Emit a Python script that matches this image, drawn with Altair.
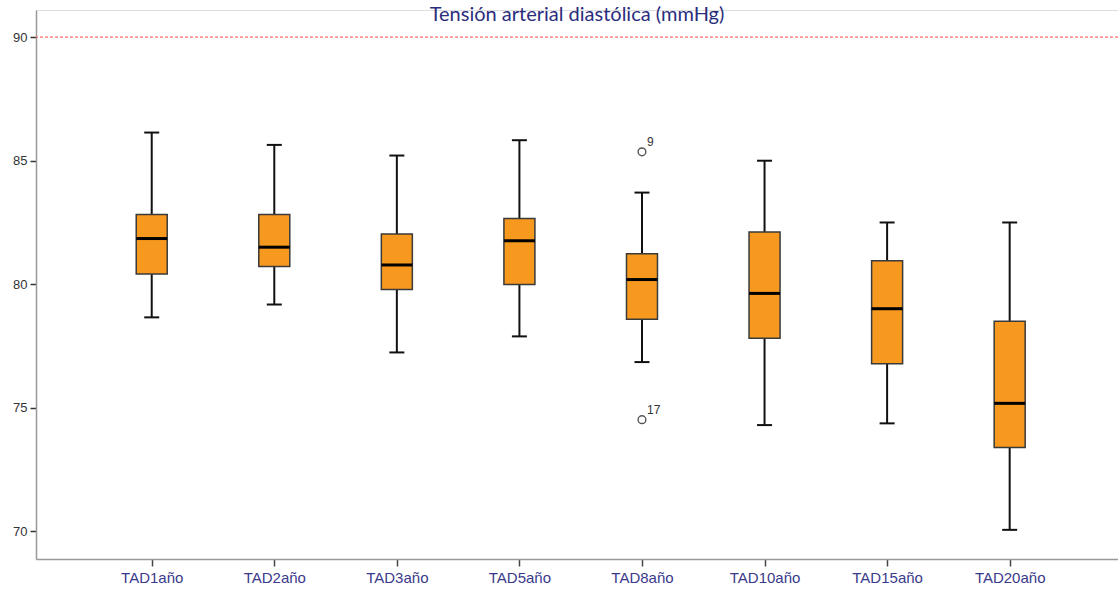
import altair as alt
import pandas as pd

# Diastolic blood pressure (mmHg) by follow-up year: box-plot summaries
periods = ["TAD1año", "TAD2año", "TAD3año", "TAD5año",
           "TAD8año", "TAD10año", "TAD15año", "TAD20año"]
whisker_low = [78.66, 79.18, 77.24, 77.89, 76.85, 74.30, 74.37, 70.06]
q1 = [80.41, 80.72, 79.79, 79.99, 78.58, 77.81, 76.78, 73.39]
median = [81.85, 81.50, 80.78, 81.76, 80.19, 79.63, 79.01, 75.18]
q3 = [82.82, 82.82, 82.03, 82.66, 81.23, 82.11, 80.95, 78.50]
whisker_high = [86.14, 85.64, 85.21, 85.83, 83.71, 85.00, 82.50, 82.50]

# Outlying cases
outlier_period = ["TAD8año", "TAD8año"]
outlier_value = [85.36, 74.52]
outlier_case = ["9", "17"]

# Reference threshold for diastolic hypertension
threshold = [90]

stats = pd.DataFrame({
    "period": periods,
    "low": whisker_low,
    "q1": q1,
    "median": median,
    "q3": q3,
    "high": whisker_high,
})
outliers = pd.DataFrame({
    "period": outlier_period,
    "value": outlier_value,
    "case": outlier_case,
})
limits = pd.DataFrame({"limit": threshold})

x_enc = alt.X(
    "period:N",
    sort=periods,
    scale=alt.Scale(type="point", padding=0.914, align=0.5165),
    axis=alt.Axis(
        title=None,
        labelAngle=0,
        labelColor="#3a3a8c",
        labelFont="Arial",
        labelFontSize=15,
        labelPadding=4,
        tickSize=7,
        tickColor="#444444",
        tickWidth=1.5,
        domainColor="#999999",
        domainWidth=1.5,
    ),
)
y_scale = alt.Scale(domain=[68.88, 91.1], nice=False, zero=False)
y_axis = alt.Axis(
    title=None,
    values=[70, 75, 80, 85, 90],
    grid=False,
    labelColor="#333333",
    labelFont="Arial",
    labelFontSize=13,
    labelPadding=3,
    tickSize=6,
    tickColor="#333333",
    tickWidth=1.5,
    domainColor="#999999",
    domainWidth=1.5,
)

base = alt.Chart(stats)

lower_whisker = base.mark_rule(color="#111111", strokeWidth=2).encode(
    x=x_enc,
    y=alt.Y("low:Q", scale=y_scale, axis=y_axis),
    y2="q1:Q",
)
upper_whisker = base.mark_rule(color="#111111", strokeWidth=2).encode(
    x=x_enc, y=alt.Y("q3:Q"), y2="high:Q"
)
caps_low = base.mark_tick(color="#111111", size=15, thickness=2, opacity=1).encode(
    x=x_enc, y=alt.Y("low:Q")
)
caps_high = base.mark_tick(color="#111111", size=15, thickness=2, opacity=1).encode(
    x=x_enc, y=alt.Y("high:Q")
)
boxes = base.mark_bar(
    size=31, fill="#F7991F", stroke="#3a3a3a", strokeWidth=1.5, opacity=1
).encode(x=x_enc, y=alt.Y("q1:Q"), y2="q3:Q")
medians = base.mark_tick(color="#000000", size=31, thickness=3, opacity=1).encode(
    x=x_enc, y=alt.Y("median:Q")
)

outlier_pts = alt.Chart(outliers).mark_point(
    shape="circle", size=60, filled=False, color="#555555", strokeWidth=1.4,
    opacity=1
).encode(x=x_enc, y=alt.Y("value:Q"))
outlier_labels = alt.Chart(outliers).mark_text(
    align="left", baseline="middle", dx=5, dy=-10,
    font="Arial", fontSize=12, color="#333333"
).encode(x=x_enc, y=alt.Y("value:Q"), text="case:N")

limit_rule = alt.Chart(limits).mark_rule(
    color="#ff6a6a", strokeDash=[3, 2], strokeWidth=1.3
).encode(y=alt.Y("limit:Q"))

chart = alt.layer(
    limit_rule, lower_whisker, upper_whisker, caps_low, caps_high,
    boxes, medians, outlier_pts, outlier_labels,
).properties(
    width=1082,
    height=549,
    title=alt.TitleParams(
        "Tensión arterial diastólica (mmHg)",
        font="Lato",
        fontSize=20,
        fontWeight="normal",
        color="#2a2d7c",
        anchor="middle",
        frame="group",
        offset=-15,
    ),
    autosize=alt.AutoSizeParams(type="none"),
    padding={"left": 36, "top": 10, "right": 0, "bottom": 33},
).configure_view(
    stroke=None
).configure(
    background="#ffffff"
)

chart.save("out.html", embed_options={"renderer": "svg", "actions": False})
